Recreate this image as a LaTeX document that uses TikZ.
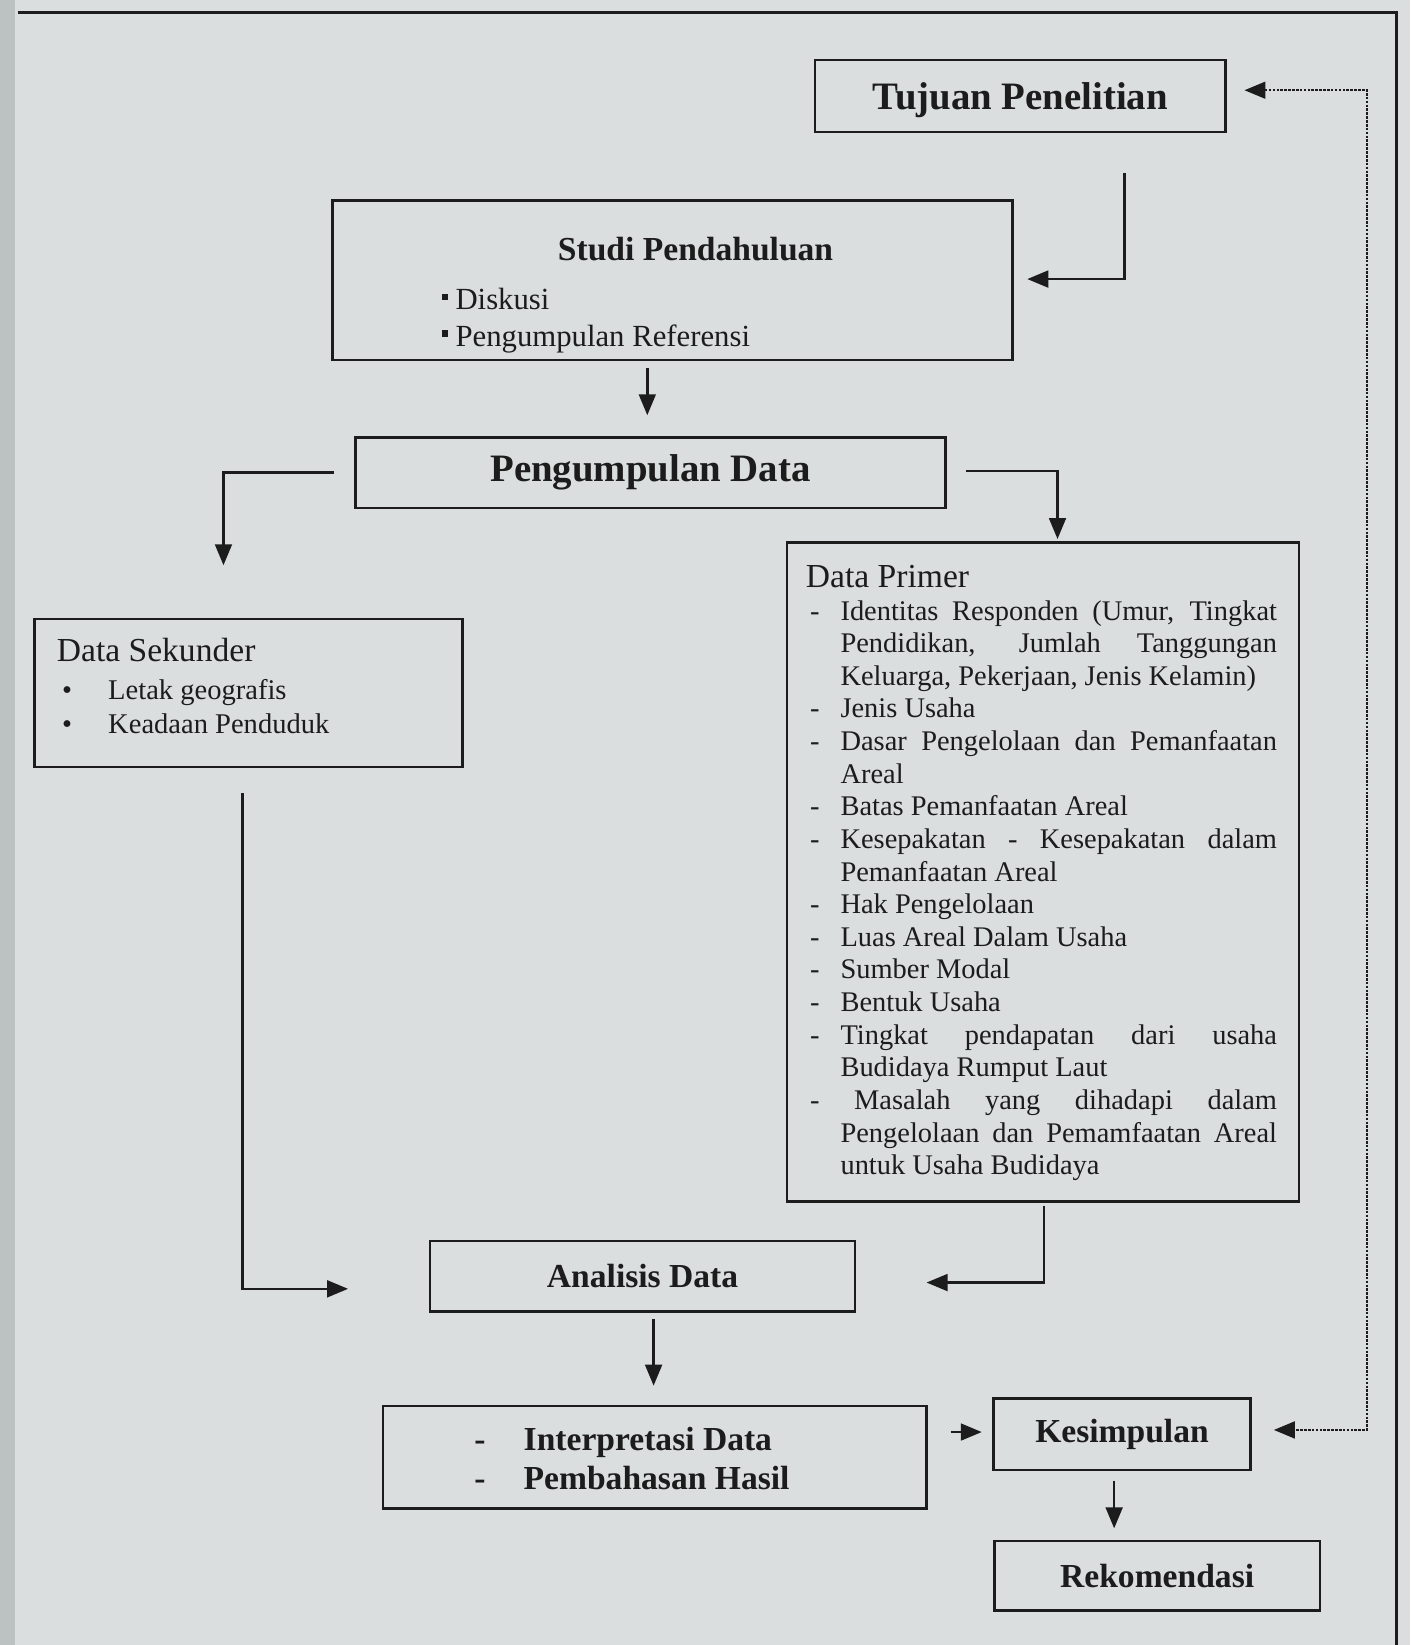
\documentclass[tikz,border=0pt]{standalone}
\usepackage{fontspec}
\setmainfont{Liberation Serif}
\usetikzlibrary{arrows.meta,calc}
\definecolor{bgc}{RGB}{218,222,222}
\definecolor{stripc}{RGB}{188,193,193}
\definecolor{ink}{RGB}{28,28,28}
\newcommand\myfs[2]{\fontsize{#1}{#2}\selectfont}
\newcommand\pj[1]{\makebox[416pt][s]{#1}}
\newcommand\dsh{\makebox[33pt][l]{\hspace{4pt}-}}
\newcommand\ind{\hspace*{33pt}}
\newcommand\sqb{\rule[9pt]{6pt}{6pt}\hspace{7pt}}
\begin{document}
\begin{tikzpicture}[x=1pt,y=-1pt,
  box/.style={draw=ink,line width=2.4pt,fill=bgc,inner sep=0pt,text=ink},
  txt/.style={inner sep=0pt,text=ink},
  conn/.style={draw=ink,line width=2.4pt,-{Triangle[length=20pt,width=16pt]}},
  fbk/.style={draw=ink,line width=2.2pt,dash pattern=on 2.5pt off 1.2pt,
    {Triangle[length=20pt,width=16pt]}-{Triangle[length=20pt,width=16pt]}}]
\fill[bgc] (0,0) rectangle (1344,1568);
\fill[stripc] (0,0) rectangle (14,1568);
\useasboundingbox (0,0) rectangle (1344,1568);
% page frame
\draw[ink,line width=2.4pt] (17,12) -- (1331,12) -- (1331,1568);

% boxes
\node[box,minimum width=391pt,minimum height=69pt] (tujuan) at (972.5,91.5) {};
\node[txt,anchor=base] (tujuanT) at (972.5,104) {\myfs{37}{40}\bfseries Tujuan Penelitian};

\node[box,minimum width=648pt,minimum height=152pt] (studi) at (641,267) {};
\node[txt,anchor=base] (studiT) at (663,248) {\myfs{32}{36}\bfseries Studi Pendahuluan};
\node[txt,anchor=base west] (studiA) at (421,295) {\myfs{29.3}{35}\sqb Diskusi};
\node[txt,anchor=base west] (studiB) at (421,330) {\myfs{29.3}{35}\sqb Pengumpulan Referensi};

\node[box,minimum width=562pt,minimum height=67pt] (pd) at (620,450.5)
  {\myfs{37}{40}\bfseries Pengumpulan Data};

\node[box,minimum width=408pt,minimum height=141pt] (sek) at (237,660.5) {};
\node[txt,anchor=base west] (sekT) at (54,631) {\myfs{32}{36}Data Sekunder};
\node[txt,anchor=base west] (sekA) at (54,667) {\myfs{27.2}{32}\makebox[49pt][l]{\hspace{5pt}•}Letak geografis};
\node[txt,anchor=base west] (sekB) at (54,699) {\myfs{27.2}{32}\makebox[49pt][l]{\hspace{5pt}•}Keadaan Penduduk};

\node[box,minimum width=488pt,minimum height=628pt] (prim) at (994,831) {};
\node[txt,anchor=north west,align=left,font=\myfs{27.1}{31.1}] (primT) at (768,538.5)
 {{\myfs{32}{31.1}Data Primer}\\
  \dsh\pj{Identitas Responden (Umur, Tingkat}\\
  \ind\pj{Pendidikan, Jumlah Tanggungan}\\
  \ind Keluarga, Pekerjaan, Jenis Kelamin)\\
  \dsh Jenis Usaha\\
  \dsh\pj{Dasar Pengelolaan dan Pemanfaatan}\\
  \ind Areal\\
  \dsh Batas Pemanfaatan Areal\\
  \dsh\pj{Kesepakatan - Kesepakatan dalam}\\
  \ind Pemanfaatan Areal\\
  \dsh Hak Pengelolaan\\
  \dsh Luas Areal Dalam Usaha\\
  \dsh Sumber Modal\\
  \dsh Bentuk Usaha\\
  \dsh\pj{Tingkat pendapatan dari usaha}\\
  \ind Budidaya Rumput Laut\\
  \dsh\pj{\hspace{13pt}Masalah yang dihadapi dalam}\\
  \ind\pj{Pengelolaan dan Pemamfaatan Areal}\\
  \ind untuk Usaha Budidaya};

\node[box,minimum width=405pt,minimum height=67pt] (anal) at (612.5,1216.5)
  {\myfs{32}{36}\bfseries Analisis Data};

\node[box,minimum width=518pt,minimum height=98pt] (interp) at (624,1389) {};
\node[txt,anchor=base west] (intA) at (452,1383) {\myfs{32}{36}\bfseries\makebox[47pt][l]{-}Interpretasi Data};
\node[txt,anchor=base west] (intB) at (452,1420) {\myfs{32}{36}\bfseries\makebox[47pt][l]{-}Pembahasan Hasil};

\node[box,minimum width=245pt,minimum height=68pt] (kes) at (1069.5,1367)
  {\myfs{32}{36}\bfseries Kesimpulan};
\node[box,minimum width=310pt,minimum height=66pt] (rek) at (1103,1502)
  {\myfs{32}{36}\bfseries Rekomendasi};

% connectors
\coordinate (tA) at (1072,165);
\draw[conn] (tA) |- ([xshift=13pt,yshift=1pt]studi.east);
\draw[conn] ([xshift=-24pt,yshift=-7pt]studi.south) -- ([xshift=-3pt,yshift=20pt]pd.north);
\draw[conn] ([xshift=-19pt]pd.west) -| ([xshift=-24pt,yshift=50pt]sek.north);
\draw[conn] ([xshift=19pt,yshift=1.5pt]pd.east) -| ([xshift=14pt,yshift=2pt]prim.north);
\draw[conn] ([xshift=-6pt,yshift=-24pt]sek.south) |- ([xshift=-77pt,yshift=-12pt]anal.west);
\draw[conn] ([xshift=1pt,yshift=-3pt]prim.south) |- ([xshift=67pt,yshift=-6pt]anal.east);
\draw[conn] ([xshift=10.5pt,yshift=-6pt]anal.south) -- ([xshift=-1pt,yshift=18pt]interp.north);
\draw[conn] ([xshift=22pt,yshift=24pt]interp.east) -- ([xshift=-10pt,yshift=2pt]kes.west);
\draw[conn] ([xshift=-7.5pt,yshift=-9pt]kes.south) -- ([xshift=-41pt,yshift=11pt]rek.north);
% feedback (dotted)
\coordinate (fbB) at (1303,1363);
\draw[fbk] ([xshift=17pt,yshift=5.5pt]tujuan.east) -| (fbB) -- ([xshift=21pt,yshift=4pt]kes.east);
\end{tikzpicture}
\end{document}
